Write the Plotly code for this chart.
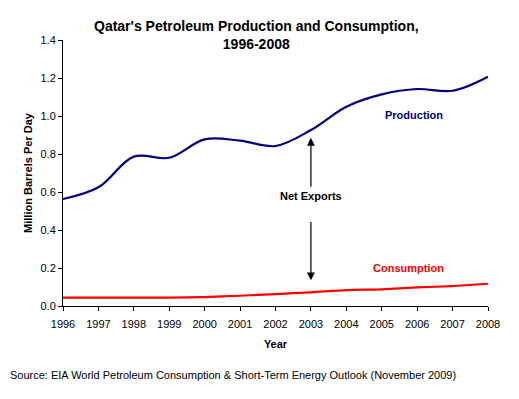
import plotly.graph_objects as go

years = list(range(1996, 2009))
production = [0.563, 0.625, 0.786, 0.780, 0.877, 0.870, 0.842, 0.926, 1.049, 1.114, 1.142, 1.133, 1.207]
consumption = [0.044, 0.044, 0.044, 0.044, 0.047, 0.054, 0.063, 0.072, 0.084, 0.088, 0.098, 0.105, 0.117]
y_ticks = [0.0, 0.2, 0.4, 0.6, 0.8, 1.0, 1.2, 1.4]

FONT = "Liberation Sans, Arial, sans-serif"

fig = go.Figure()
fig.add_trace(go.Scatter(x=years, y=production, mode="lines", name="Production",
                         line=dict(color="#000080", width=2.2, shape="spline", smoothing=1.0)))
fig.add_trace(go.Scatter(x=years, y=consumption, mode="lines", name="Consumption",
                         line=dict(color="#ff0000", width=2.2, shape="spline", smoothing=0.6)))

annotations = [
    dict(x=(256.5 - 63) / 425, y=1 + (40 - 34.5) / 266, xref="paper", yref="paper",
         xanchor="center", yanchor="middle",
         text="<b>Qatar's Petroleum Production and Consumption,<br>1996-2008</b>",
         showarrow=False, font=dict(size=14, color="black", family=FONT), align="center"),
    dict(x=2003, y=0.58, xref="x", yref="y", text="<b>Net Exports</b>", showarrow=False,
         font=dict(size=11, color="black", family=FONT)),
    dict(x=2003, y=0.885, ax=2003, ay=0.62, xref="x", yref="y", axref="x", ayref="y",
         text="", showarrow=True, arrowhead=2, arrowsize=1.3, arrowwidth=1.2, arrowcolor="black"),
    dict(x=2003, y=0.135, ax=2003, ay=0.45, xref="x", yref="y", axref="x", ayref="y",
         text="", showarrow=True, arrowhead=2, arrowsize=1.3, arrowwidth=1.2, arrowcolor="black"),
    dict(x=2005.9, y=1.005, xref="x", yref="y", text="<b>Production</b>", showarrow=False,
         font=dict(size=11, color="#000080", family=FONT)),
    dict(x=2005.75, y=0.20, xref="x", yref="y", text="<b>Consumption</b>", showarrow=False,
         font=dict(size=11, color="#ff0000", family=FONT)),
    dict(x=(8 - 63) / 425, y=-(375 - 306) / 266, xref="paper", yref="paper", xanchor="left", yanchor="middle",
         text="Source: EIA World Petroleum Consumption &amp; Short-Term Energy Outlook (November 2009)",
         showarrow=False, font=dict(size=11, color="black", family=FONT)),
]

fig.update_layout(
    width=519, height=399,
    margin=dict(l=63, r=31, t=40, b=93, autoexpand=False),
    paper_bgcolor="white", plot_bgcolor="white",
    showlegend=False,
    font=dict(family=FONT, size=11, color="black"),
    annotations=annotations,
    xaxis=dict(range=[1996, 2008], tickmode="array", tickvals=years, ticktext=[str(y) for y in years],
               showline=True, linecolor="black", linewidth=1, ticks="outside", ticklen=4,
               tickcolor="black", showgrid=False, zeroline=False, ticklabelstandoff=4,
               title=dict(text="<b>Year</b>", font=dict(size=11, family=FONT), standoff=11)),
    yaxis=dict(range=[0, 1.4], tickmode="array", tickvals=y_ticks,
               ticktext=[f"{v:.1f}" for v in y_ticks],
               showline=True, linecolor="black", linewidth=1, ticks="outside", ticklen=4,
               tickcolor="black", showgrid=False, zeroline=False,
               title=dict(text="<b>Million Barrels Per Day</b>", font=dict(size=11, family=FONT), standoff=5)),
)

fig.write_html("out.html", config={"displayModeBar": False},
               post_script="document.body.style.margin='0px';")
